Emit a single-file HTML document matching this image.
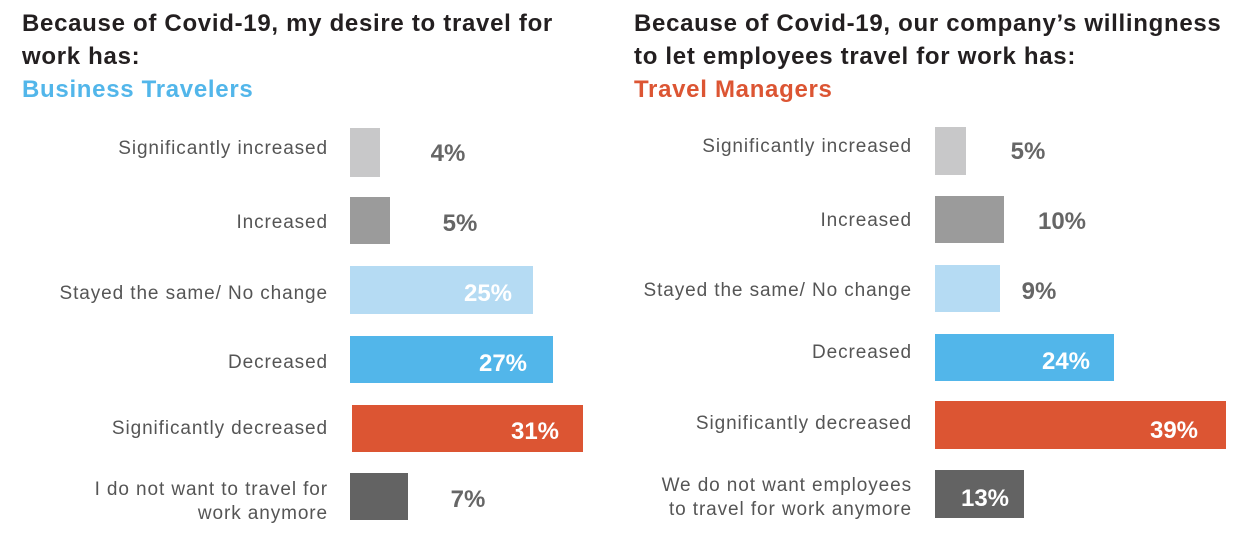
<!DOCTYPE html>
<html><head><meta charset="utf-8"><style>
body{margin:0;width:1260px;height:554px;background:#fff;position:relative;overflow:hidden;font-family:"Liberation Sans",sans-serif}
.t{position:absolute;font-weight:bold;font-size:24px;line-height:33px;color:#231f20;letter-spacing:0.7px}
.lab{position:absolute;text-align:right;font-size:19px;color:#555;line-height:24px;transform:translateY(-50%);letter-spacing:0.9px;white-space:nowrap}
.bar{position:absolute}
.p{position:absolute;font-weight:bold;font-size:24px;color:#666;transform:translate(-50%,-50%);letter-spacing:0px}
.w{color:#fff}
</style></head><body>
<div class="t" style="left:22px;top:7px">Because of Covid-19, my desire to travel for<br>work has:<br><span style="color:#52b6ea">Business Travelers</span></div>
<div class="t" style="left:634px;top:7px">Because of Covid-19, our company’s willingness<br>to let employees travel for work has:<br><span style="color:#dc5533">Travel Managers</span></div>

<div class="lab" style="right:932px;top:149px">Significantly increased</div>
<div class="lab" style="right:932px;top:223px">Increased</div>
<div class="lab" style="right:932px;top:294px">Stayed the same/ No change</div>
<div class="lab" style="right:932px;top:363px">Decreased</div>
<div class="lab" style="right:932px;top:429px">Significantly decreased</div>
<div class="lab" style="right:932px;top:502px">I do not want to travel for<br>work anymore</div>

<div class="bar" style="left:350px;top:128px;width:30px;height:49px;background:#c8c8c9"></div>
<div class="bar" style="left:350px;top:197px;width:40px;height:47px;background:#9b9b9b"></div>
<div class="bar" style="left:350px;top:266px;width:183px;height:48px;background:#b5dbf3"></div>
<div class="bar" style="left:350px;top:336px;width:203px;height:47px;background:#52b6ea"></div>
<div class="bar" style="left:352px;top:405px;width:231px;height:47px;background:#dc5533"></div>
<div class="bar" style="left:350px;top:473px;width:58px;height:47px;background:#636363"></div>
<div class="p" style="left:448px;top:154px">4%</div>
<div class="p" style="left:460px;top:224px">5%</div>
<div class="p w" style="left:488px;top:294px">25%</div>
<div class="p w" style="left:503px;top:364px">27%</div>
<div class="p w" style="left:535px;top:432px">31%</div>
<div class="p" style="left:468px;top:500px">7%</div>

<div class="lab" style="right:348px;top:147px">Significantly increased</div>
<div class="lab" style="right:348px;top:221px">Increased</div>
<div class="lab" style="right:348px;top:291px">Stayed the same/ No change</div>
<div class="lab" style="right:348px;top:353px">Decreased</div>
<div class="lab" style="right:348px;top:424px">Significantly decreased</div>
<div class="lab" style="right:348px;top:498px">We do not want employees<br>to travel for work anymore</div>

<div class="bar" style="left:935px;top:127px;width:31px;height:48px;background:#c8c8c9"></div>
<div class="bar" style="left:935px;top:196px;width:69px;height:47px;background:#9b9b9b"></div>
<div class="bar" style="left:935px;top:265px;width:65px;height:47px;background:#b5dbf3"></div>
<div class="bar" style="left:935px;top:334px;width:179px;height:47px;background:#52b6ea"></div>
<div class="bar" style="left:935px;top:401px;width:291px;height:48px;background:#dc5533"></div>
<div class="bar" style="left:935px;top:470px;width:89px;height:48px;background:#636363"></div>
<div class="p" style="left:1028px;top:152px">5%</div>
<div class="p" style="left:1062px;top:222px">10%</div>
<div class="p" style="left:1039px;top:292px">9%</div>
<div class="p w" style="left:1066px;top:362px">24%</div>
<div class="p w" style="left:1174px;top:431px">39%</div>
<div class="p w" style="left:985px;top:499px">13%</div>
</body></html>
